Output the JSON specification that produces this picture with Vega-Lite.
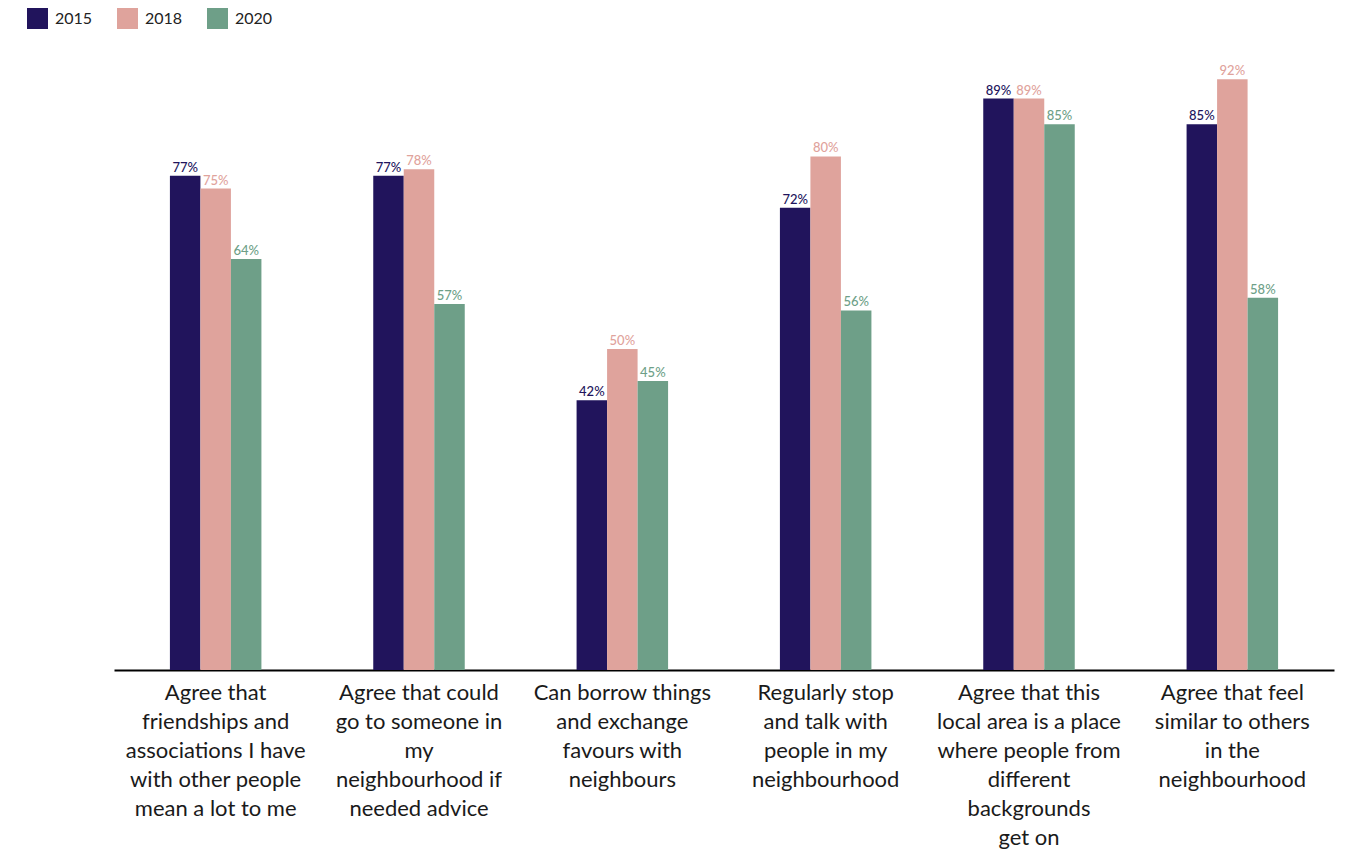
{
  "$schema": "https://vega.github.io/schema/vega-lite/v6.json",
  "width": 1220,
  "height": 642,
  "autosize": {"type": "none"},
  "padding": {"left": 114, "top": 28, "right": 16, "bottom": 181},
  "background": "white",
  "config": {"view": {"stroke": null}, "font": "Lato"},
  "data": {
    "values": [
      {"category": "Agree that|friendships and|associations I have|with other people|mean a lot to me", "year": "2015", "value": 0.77},
      {"category": "Agree that|friendships and|associations I have|with other people|mean a lot to me", "year": "2018", "value": 0.75},
      {"category": "Agree that|friendships and|associations I have|with other people|mean a lot to me", "year": "2020", "value": 0.64},
      {"category": "Agree that could|go to someone in|my|neighbourhood if|needed advice", "year": "2015", "value": 0.77},
      {"category": "Agree that could|go to someone in|my|neighbourhood if|needed advice", "year": "2018", "value": 0.78},
      {"category": "Agree that could|go to someone in|my|neighbourhood if|needed advice", "year": "2020", "value": 0.57},
      {"category": "Can borrow things|and exchange|favours with|neighbours", "year": "2015", "value": 0.42},
      {"category": "Can borrow things|and exchange|favours with|neighbours", "year": "2018", "value": 0.50},
      {"category": "Can borrow things|and exchange|favours with|neighbours", "year": "2020", "value": 0.45},
      {"category": "Regularly stop|and talk with|people in my|neighbourhood", "year": "2015", "value": 0.72},
      {"category": "Regularly stop|and talk with|people in my|neighbourhood", "year": "2018", "value": 0.80},
      {"category": "Regularly stop|and talk with|people in my|neighbourhood", "year": "2020", "value": 0.56},
      {"category": "Agree that this|local area is a place|where people from|different|backgrounds| get on", "year": "2015", "value": 0.89},
      {"category": "Agree that this|local area is a place|where people from|different|backgrounds| get on", "year": "2018", "value": 0.89},
      {"category": "Agree that this|local area is a place|where people from|different|backgrounds| get on", "year": "2020", "value": 0.85},
      {"category": "Agree that feel|similar to others|in the|neighbourhood", "year": "2015", "value": 0.85},
      {"category": "Agree that feel|similar to others|in the|neighbourhood", "year": "2018", "value": 0.92},
      {"category": "Agree that feel|similar to others|in the|neighbourhood", "year": "2020", "value": 0.58}
    ]
  },
  "encoding": {
    "x": {
      "field": "category",
      "type": "nominal",
      "sort": null,
      "scale": {"paddingInner": 0.55, "paddingOuter": 0.275},
      "axis": {
        "title": null,
        "labelExpr": "split(datum.value, '|')",
        "labelAngle": 0,
        "labelFontSize": 22,
        "labelLineHeight": 29,
        "labelColor": "#1a1a1a",
        "labelPadding": 12,
        "labelLimit": 0,
        "labelBaseline": "top",
        "ticks": false,
        "domainColor": "#000000",
        "domainWidth": 2
      }
    },
    "xOffset": {"field": "year", "type": "nominal"},
    "y": {"field": "value", "type": "quantitative", "scale": {"domain": [0, 1]}, "axis": null},
    "color": {
      "field": "year",
      "type": "nominal",
      "scale": {"domain": ["2015", "2018", "2020"], "range": ["#21145c", "#dfa39c", "#6e9f88"]},
      "legend": {
        "title": null,
        "orient": "none",
        "legendX": -87,
        "legendY": -20,
        "direction": "horizontal",
        "symbolType": "square",
        "symbolSize": 441,
        "symbolStrokeWidth": 0,
        "symbolOpacity": 1,
        "labelFontSize": 16,
        "labelColor": "#222222",
        "labelOffset": 7,
        "columnPadding": 24
      }
    }
  },
  "layer": [
    {"mark": {"type": "bar"}},
    {
      "mark": {"type": "text", "baseline": "bottom", "dy": -1, "fontSize": 13, "fontWeight": 500},
      "encoding": {"text": {"field": "value", "type": "quantitative", "format": ".0%"}}
    }
  ]
}
